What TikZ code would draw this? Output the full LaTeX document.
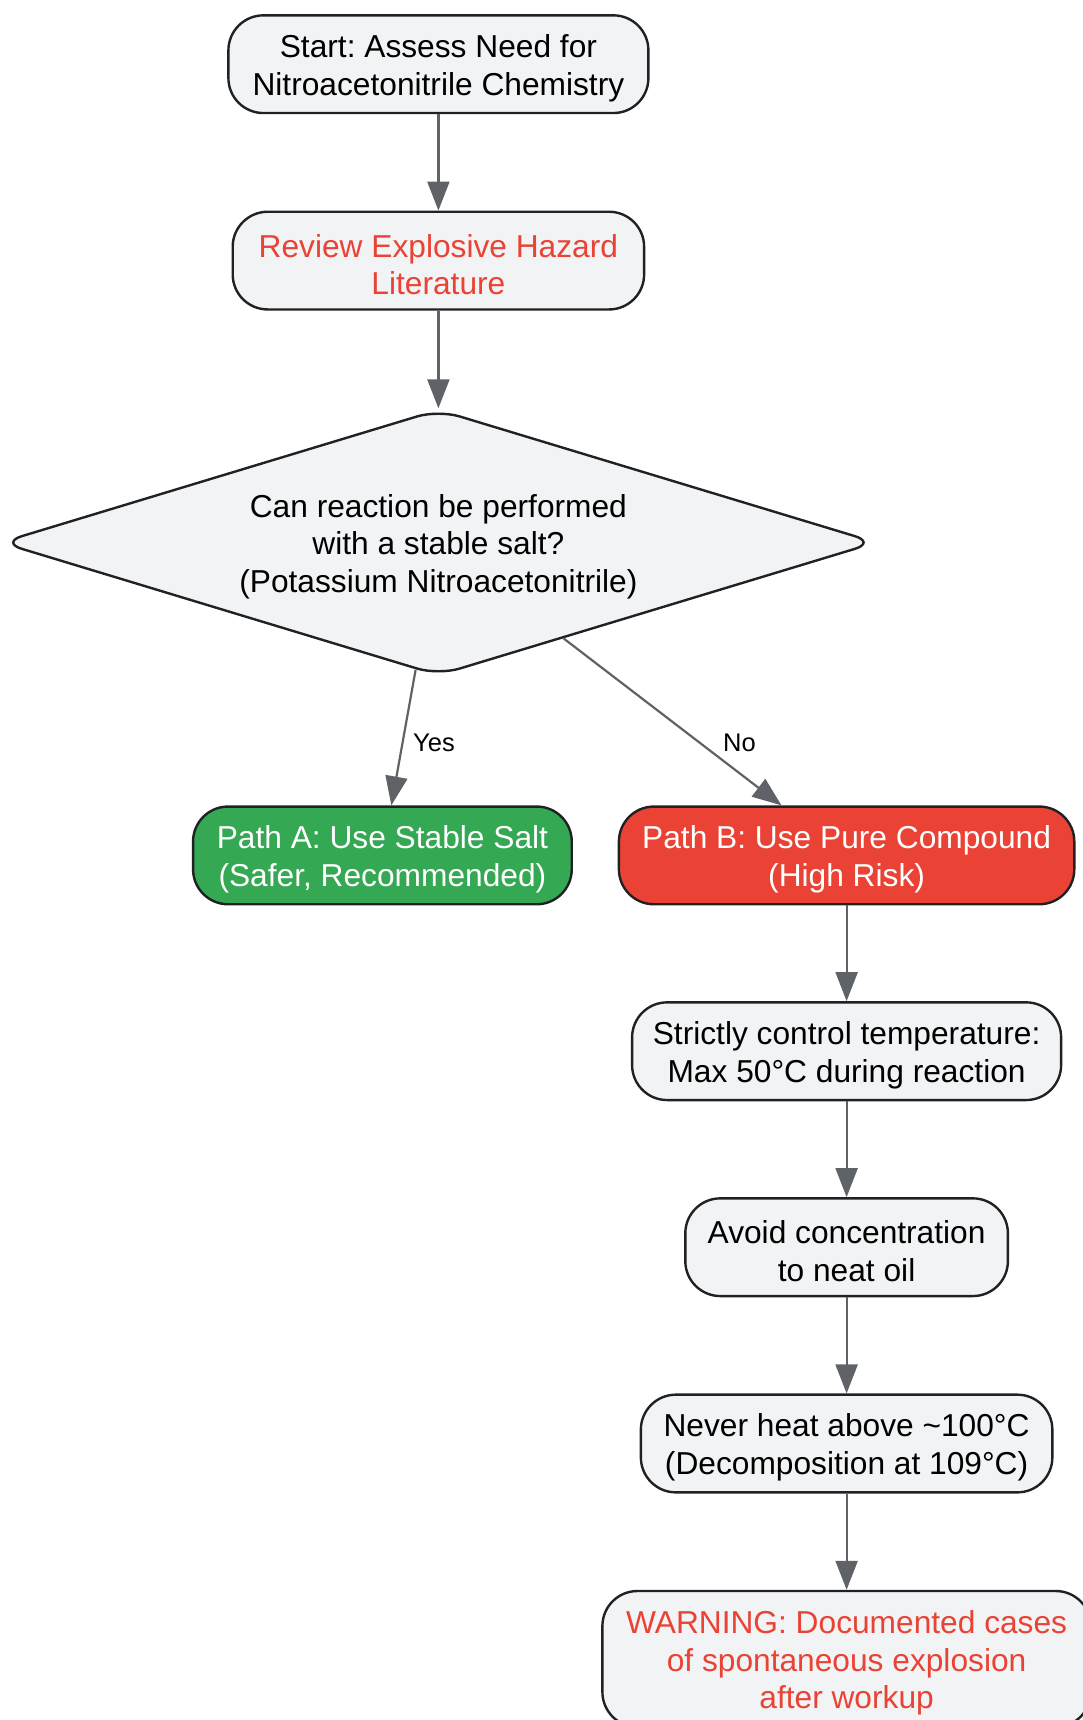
\documentclass[tikz,border=0pt]{standalone}
\usepackage{fontspec}
\setmainfont{Liberation Sans}
\frenchspacing
\usetikzlibrary{arrows.meta,shapes.geometric}
\definecolor{nodefill}{HTML}{F1F3F4}
\definecolor{nodeline}{HTML}{202124}
\definecolor{edgecol}{HTML}{5F6368}
\definecolor{gred}{HTML}{EA4335}
\definecolor{ggreen}{HTML}{34A853}
\newcommand{\toprl}{\rule{0pt}{31pt}}
\begin{document}
\begin{tikzpicture}[x=1pt,y=-1pt,
  box/.style={draw=nodeline, line width=2.4pt, fill=nodefill, rounded corners=35pt,
    minimum height=97.7pt, inner sep=0pt, align=center,
    font=\fontsize{31.7}{37.5}\selectfont, text=black},
  redtxt/.style={text=gred},
  greenbox/.style={fill=ggreen, text=white},
  redbox/.style={fill=gred, text=white},
  decision/.style={diamond, aspect=3.2, draw=nodeline, line width=2.4pt, fill=nodefill,
    rounded corners=22pt, minimum width=876pt, minimum height=266pt, inner sep=0pt,
    align=center, font=\fontsize{31.7}{37.5}\selectfont},
  flow/.style={draw=edgecol, line width=2.2pt, -{Triangle[length=29pt,width=22pt]}},
  elabel/.style={font=\fontsize{25.5}{30}\selectfont, inner sep=0pt, text=black}
]
\useasboundingbox (0,0) rectangle (1083,1720);
\clip (0,0) rectangle (1083,1720);

\node[box, minimum width=420pt] (start) at (438.4,64.2) {\toprl Start: Assess Need for\\Nitroacetonitrile Chemistry};
\node[box, redtxt, minimum width=411.4pt] (rev) at (438.4,260.6) {\toprl Review Explosive Hazard\\Literature};
\node[decision] (dia) at (438.4,542.5) {\toprl Can reaction be performed\\with a stable salt?\\(Potassium Nitroacetonitrile)};
\node[box, greenbox, minimum width=378.7pt] (pa) at (382.4,855.4) {\toprl Path A: Use Stable Salt\\(Safer, Recommended)};
\node[box, redbox, minimum width=455.4pt] (pb) at (846.6,855.4) {\toprl Path B: Use Pure Compound\\(High Risk)};
\node[box, minimum width=429pt] (temp) at (846.6,1051.2) {\toprl Strictly control temperature:\\Max 50°C during reaction};
\node[box, minimum width=322.6pt] (avoid) at (846.6,1247.2) {\toprl Avoid concentration\\to neat oil};
\node[box, minimum width=411.5pt] (heat) at (846.6,1443.5) {\toprl Never heat above \textasciitilde100°C\\(Decomposition at 109°C)};
\node[box, redtxt, minimum width=488.4pt, minimum height=136pt] (warn) at (846.6,1659) {\toprl WARNING: Documented cases\\of spontaneous explosion\\after workup};

\draw[flow] (start) -- (rev);
\draw[flow] (rev) -- (dia);
\draw[flow] (dia) -- (pa);
\draw[flow] (dia) -- (pb);
\draw[flow] (pb) -- (temp);
\draw[flow] (temp) -- (avoid);
\draw[flow] (avoid) -- (heat);
\draw[flow] (heat) -- (warn);

\node[elabel] (ly) at (434,743) {Yes};
\node[elabel] (ln) at (739.5,743) {No};
\end{tikzpicture}
\end{document}
